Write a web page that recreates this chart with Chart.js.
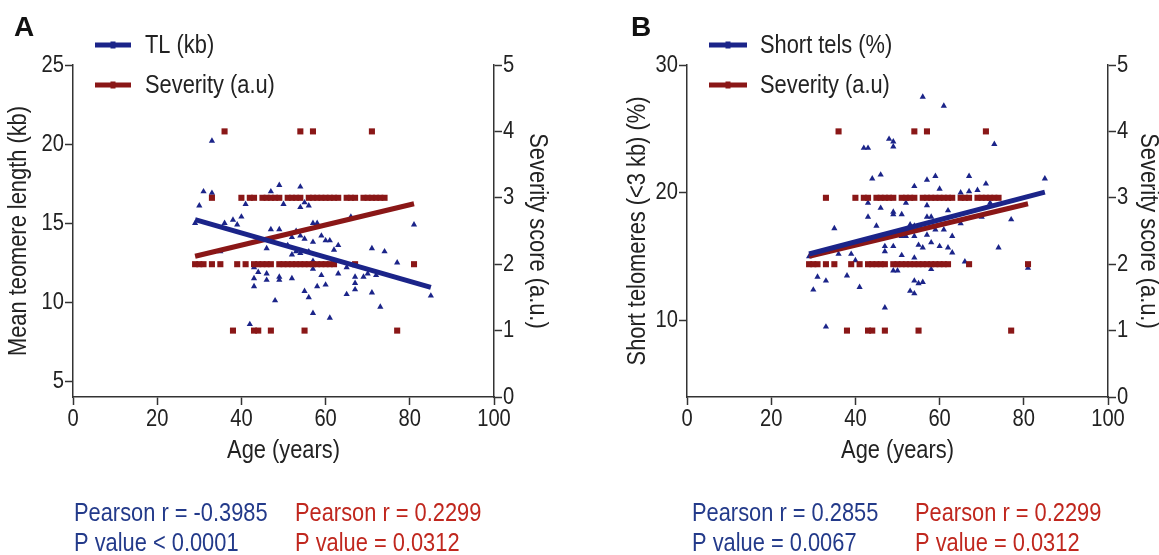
<!DOCTYPE html>
<html><head><meta charset="utf-8">
<script src="https://cdn.jsdelivr.net/npm/chart.js@4.4.1/dist/chart.umd.min.js"></script>
<style>
html,body{margin:0;padding:0;background:#fff;overflow:hidden;width:1159px;height:555px;position:relative;}
canvas{position:absolute;top:0;}
</style></head><body>
<canvas id="cA" style="left:0px"></canvas>
<canvas id="cB" style="left:580px"></canvas>
<script>
// ---------------- data ----------------
const xTicks = [0, 20, 40, 60, 80, 100];
const tlTicks = [5, 10, 15, 20, 25];
const shortTicks = [10, 20, 30];
const sevTicks = [0, 1, 2, 3, 4, 5];

// Panel A: mean telomere length (kb) vs age
const tlAge = [29,30,31,33,33,35,36,38,39,40,41,42,43,43,43,44,46,46,46,47,47,48,49,49,49,49,50,51,52,52,52,53,53,54,54,54,54,55,55,55,56,56,56,57,57,57,57,57,58,58,59,59,60,60,61,61,62,63,63,65,65,66,67,67,67,69,70,71,71,72,73,74,77,81,85];
const tlKb  = [15.0,16.1,17.0,20.2,16.9,13.2,15.0,15.2,14.9,15.4,16.2,8.6,12.2,11.5,11.0,11.9,11.8,11.4,13.4,17.0,14.6,10.1,17.4,14.6,11.6,11.4,16.2,13.6,14.1,11.5,13.0,14.5,13.2,17.3,16.0,14.2,13.1,16.3,14.0,10.7,16.1,13.2,10.3,15.0,13.8,12.6,12.1,9.3,15.0,11.0,14.2,11.7,13.9,11.1,13.9,9.0,13.3,13.6,11.8,12.2,10.5,15.4,11.6,11.2,10.8,11.6,11.8,13.4,10.6,11.7,9.7,13.2,12.5,14.9,10.4];
const tlFitAge = [29, 85];
const tlFitKb  = [15.22, 10.93];

// Panel B: short telomeres (<3 kb) (%) vs age
const shAge = [29,30,31,33,33,35,36,38,39,40,41,42,43,43,43,44,45,46,46,47,47,47,48,49,49,49,49,49,49,50,51,51,51,52,52,53,53,54,54,54,54,54,54,55,55,56,56,56,57,57,57,57,58,58,58,59,59,60,60,61,61,62,62,63,63,65,65,66,67,67,69,70,71,72,73,74,77,81,85];
const shPct = [15.0,12.4,13.4,13.1,9.5,17.2,15.2,13.5,15.2,14.7,12.6,23.5,23.5,19.2,18.1,21.1,17.4,21.4,18.8,15.8,15.4,11.0,24.2,24.0,23.6,18.5,18.3,15.8,13.9,13.9,18.3,15.1,16.6,19.2,16.6,17.5,12.3,20.5,17.4,16.6,14.9,13.1,12.1,15.9,12.9,27.5,15.7,13.0,21.0,19.0,18.1,16.7,18.1,16.1,14.0,21.3,17.1,20.3,15.8,26.8,17.1,18.6,15.7,16.6,15.3,20.0,17.6,14.6,21.3,20.1,20.2,18.1,20.7,19.2,23.8,15.7,17.9,14.1,21.1];
const shFitAge = [29, 85];
const shFitPct = [15.2, 20.05];

// Severity score (a.u.) vs age (shared by both panels)
const sev1Age = [38,43,44,47,55,77];
const sev2Age = [29,30,31,33,35,39,41,43,44,45,46,47,49,50,51,52,53,54,55,56,57,58,59,60,61,62,67,81];
const sev3Age = [33,40,42,43,45,46,47,48,49,51,52,53,54,56,57,58,59,60,61,62,63,65,66,67,69,70,71,72,73,74];
const sev4Age = [36,54,57,71];
const sevFitAge = [29, 81];
const sevFitVal = [2.12, 2.91];

// ---------------- helpers ----------------
const FONT = "'Liberation Sans', Arial, sans-serif";
const K = 0.84; // horizontal condensing of the narrow sans used in the figure

const C_BLUE = '#1b2489', C_RED = '#8a1717';
const C_TBLUE = '#233a8a', C_TRED = '#c0271e';
const C_AXIS = '#333', C_TXT = '#222';

const zip = (a, b) => a.map((v, i) => ({x: v, y: b[i]}));
const sevPts = [].concat(
  sev1Age.map(a => ({x: a, y: 1})),
  sev2Age.map(a => ({x: a, y: 2})),
  sev3Age.map(a => ({x: a, y: 3})),
  sev4Age.map(a => ({x: a, y: 4}))
);
const setTicks = arr => s => { s.ticks = arr.map(v => ({value: v})); };

function condense(ctx, k){
  const f = ctx.fillText.bind(ctx), m = ctx.measureText.bind(ctx);
  ctx._plainFill = f;
  ctx.fillText = function(t, x, y){
    ctx.save(); ctx.translate(x, y); ctx.scale(k, 1); f(t, 0, 0); ctx.restore();
  };
  ctx.measureText = function(t){
    const r = m(t);
    return {width: r.width * k,
      actualBoundingBoxAscent: r.actualBoundingBoxAscent, actualBoundingBoxDescent: r.actualBoundingBoxDescent,
      actualBoundingBoxLeft: r.actualBoundingBoxLeft * k, actualBoundingBoxRight: r.actualBoundingBoxRight * k,
      fontBoundingBoxAscent: r.fontBoundingBoxAscent, fontBoundingBoxDescent: r.fontBoundingBoxDescent};
  };
}

const H = 555, PLOT_TOP = 65, PLOT_BOTTOM = 397, XBOX_BOTTOM = 480;

function buildPanel(id, o){
  const W = o.width;
  const cv = document.getElementById(id);
  cv.width = W; cv.height = H; cv.style.width = W + 'px'; cv.style.height = H + 'px';
  condense(cv.getContext('2d'), K);
  const tickFont = {family: FONT, size: 24};
  const titleFont = {family: FONT, size: 26};
  const lhT = titleFont.size * 1.2;
  const axisCommon = {
    grid: {drawOnChartArea: false, drawTicks: true, tickLength: 8, tickWidth: 1.5, color: C_AXIS},
    border: {display: true, color: C_AXIS, width: 1.5},
  };
  const extras = {
    id: 'extras',
    afterDraw(chart){
      const ctx = chart.ctx;
      ctx.save();
      // panel letter (not condensed)
      ctx.fillStyle = '#111';
      ctx.font = 'bold 28px ' + FONT;
      ctx.textBaseline = 'alphabetic'; ctx.textAlign = 'left';
      ctx._plainFill(o.letter, o.letterX, 36);
      // legend
      ctx.font = '26px ' + FONT;
      ctx.textBaseline = 'middle';
      o.legend.forEach(it => {
        ctx.strokeStyle = it.color; ctx.lineWidth = 5; ctx.lineCap = 'butt';
        ctx.beginPath(); ctx.moveTo(o.legX1, it.y); ctx.lineTo(o.legX2, it.y); ctx.stroke();
        ctx.fillStyle = it.color;
        const cx = (o.legX1 + o.legX2) / 2;
        ctx.fillRect(cx - 2.5, it.y - 3.5, 5, 7);
        ctx.fillStyle = C_TXT;
        ctx.fillText(it.text, o.legTextX, it.y + 1);
      });
      // stats
      ctx.textBaseline = 'alphabetic';
      o.stats.forEach(st => {
        ctx.fillStyle = st.color;
        ctx.fillText(st.l1, st.x, 521);
        ctx.fillText(st.l2, st.x, 551);
      });
      ctx.restore();
    }
  };
  return new Chart(cv, {
    type: 'scatter',
    data: {datasets: [
      {label: o.mainLabel + ' fit', data: o.fit, yAxisID: 'y', showLine: true, borderColor: C_BLUE, borderWidth: 5, pointRadius: 0, order: 0},
      {label: 'Severity fit', data: zip(sevFitAge, sevFitVal), yAxisID: 'y2', showLine: true, borderColor: C_RED, borderWidth: 5, pointRadius: 0, order: 1},
      {label: 'Severity (a.u)', data: sevPts, yAxisID: 'y2', pointStyle: 'rect', pointRadius: 4.3, backgroundColor: C_RED, borderWidth: 0, order: 2},
      {label: o.mainLabel, data: o.pts, yAxisID: 'y', pointStyle: 'triangle', pointRadius: 3.6, backgroundColor: C_BLUE, borderWidth: 0, order: 3}
    ]},
    options: {
      responsive: false, animation: false, events: [],
      layout: {padding: {top: PLOT_TOP, left: 0, right: 0, bottom: H - XBOX_BOTTOM}},
      plugins: {legend: {display: false}, tooltip: {enabled: false}},
      scales: {
        x: Object.assign({}, axisCommon, {
          type: 'linear', min: 0, max: 100,
          afterBuildTicks: setTicks(xTicks),
          afterFit: s => { s.height = XBOX_BOTTOM - PLOT_BOTTOM; },
          ticks: {font: tickFont, color: C_TXT, padding: 0, maxRotation: 0},
          title: {display: true, text: 'Age (years)', font: titleFont, color: C_TXT, padding: {top: 0, bottom: XBOX_BOTTOM - 451 - lhT / 2}}
        }),
        y: Object.assign({}, axisCommon, {
          type: 'linear', position: 'left', min: o.yMin, max: o.yMax,
          afterBuildTicks: setTicks(o.yTicks),
          afterFit: s => { s.width = o.plotLeft; },
          ticks: {font: tickFont, color: C_TXT, padding: 1},
          title: {display: true, text: o.yTitle, font: titleFont, color: C_TXT, padding: {top: o.yTitleX - lhT / 2, bottom: 0}}
        }),
        y2: Object.assign({}, axisCommon, {
          type: 'linear', position: 'right', min: 0, max: 5,
          afterBuildTicks: setTicks(sevTicks),
          afterFit: s => { s.width = W - o.plotRight; },
          ticks: {font: tickFont, color: C_TXT, padding: 1},
          title: {display: true, text: 'Severity score (a.u.)', font: titleFont, color: C_TXT, padding: {top: W - o.y2TitleX - lhT / 2, bottom: 0}}
        })
      }
    },
    plugins: [extras]
  });
}

buildPanel('cA', {
  width: 580, plotLeft: 73, plotRight: 494,
  yMin: 4, yMax: 25, yTicks: tlTicks, yTitle: 'Mean teomere length (kb)',
  yTitleX: 19, y2TitleX: 537,
  pts: zip(tlAge, tlKb), fit: zip(tlFitAge, tlFitKb), mainLabel: 'TL (kb)',
  letter: 'A', letterX: 14,
  legX1: 95, legX2: 131, legTextX: 145,
  legend: [{text: 'TL (kb)', color: C_BLUE, y: 45}, {text: 'Severity (a.u)', color: C_RED, y: 85}],
  stats: [
    {x: 74, color: C_TBLUE, l1: 'Pearson r = -0.3985', l2: 'P value < 0.0001'},
    {x: 295, color: C_TRED, l1: 'Pearson r = 0.2299', l2: 'P value = 0.0312'}
  ]
});

buildPanel('cB', {
  width: 600, plotLeft: 107, plotRight: 528,
  yMin: 4, yMax: 30, yTicks: shortTicks, yTitle: 'Short telomeres (<3 kb) (%)',
  yTitleX: 58, y2TitleX: 568,
  pts: zip(shAge, shPct), fit: zip(shFitAge, shFitPct), mainLabel: 'Short tels (%)',
  letter: 'B', letterX: 51,
  legX1: 129, legX2: 167, legTextX: 180,
  legend: [{text: 'Short tels (%)', color: C_BLUE, y: 45}, {text: 'Severity (a.u)', color: C_RED, y: 85}],
  stats: [
    {x: 112, color: C_TBLUE, l1: 'Pearson r = 0.2855', l2: 'P value = 0.0067'},
    {x: 335, color: C_TRED, l1: 'Pearson r = 0.2299', l2: 'P value = 0.0312'}
  ]
});
</script>
</body></html>
